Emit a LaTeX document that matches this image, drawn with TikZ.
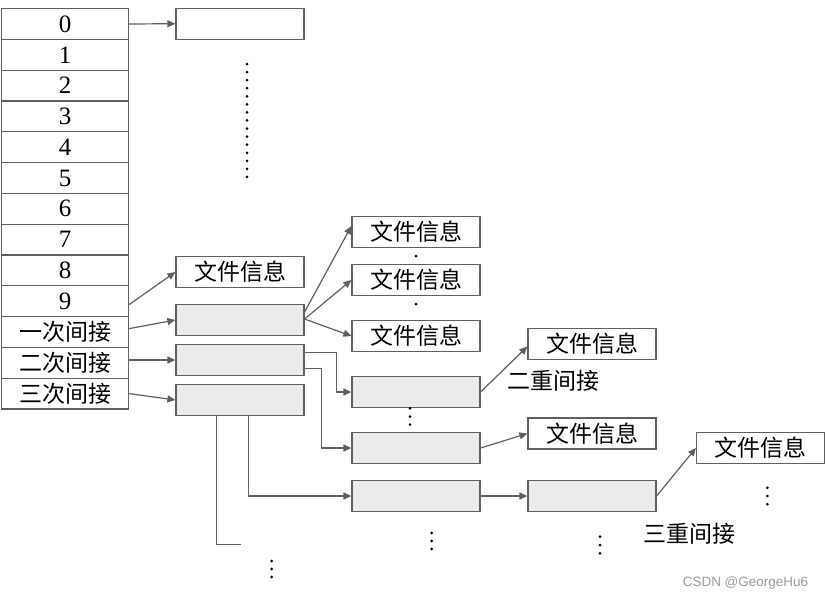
\documentclass[tikz,border=0pt]{standalone}
\usepackage{fontspec}
\newfontfamily\cjk{Noto Sans CJK SC}
\newfontfamily\wmfont{Liberation Sans}
\newfontfamily\digfont{Liberation Serif}
\usetikzlibrary{arrows.meta}
\definecolor{ln}{HTML}{5F5F5F}
\definecolor{gf}{HTML}{EBEBEB}
\definecolor{wmc}{HTML}{9A9A9A}
\begin{document}
\begin{tikzpicture}[x=1pt,y=-1pt,
 cell/.style={draw=ln,line width=1.2pt,minimum width=127pt,minimum height=30.8pt,inner sep=0,anchor=north west,font=\digfont\fontsize{25}{25}\selectfont},
 ccell/.style={cell,font=\cjk\fontsize{23}{23}\selectfont},
 box/.style={draw=ln,line width=1.2pt,minimum width=128pt,minimum height=31pt,inner sep=0,font=\cjk\fontsize{23}{23}\selectfont},
 gbox/.style={box,fill=gf},
 conn/.style={draw=ln,line width=1.2pt},
 arr/.style={conn,-{Triangle[length=8pt,width=7pt]}},
 dot/.style={circle,fill=black,inner sep=0,minimum size=3pt},
 lbl/.style={font=\cjk\fontsize{23}{23}\selectfont,inner sep=0}]
\useasboundingbox (0,0) rectangle (825,600);

% index table
\foreach \i in {0,...,9} \node[cell] (r\i) at (1,{8+\i*30.8}) {\i};
\node[ccell] (r10) at (1,{8+10*30.8}) {一次间接};
\node[ccell] (r11) at (1,{8+11*30.8}) {二次间接};
\node[ccell] (r12) at (1,{8+12*30.8}) {三次间接};

% first column of blocks
\node[box] (top0) at (240,23.7) {};
\node[box] (fi0) at (240,272) {文件信息};
\node[gbox] (A) at (240,320) {};
\node[gbox] (B) at (240,360) {};
\node[gbox] (C) at (240,400) {};

% second column
\node[box] (fi1) at (416,231.6) {文件信息};
\node[box] (fi2) at (416,280) {文件信息};
\node[box] (fi3) at (416,336) {文件信息};
\node[gbox] (D) at (416,392) {};
\node[gbox] (E) at (416,448) {};
\node[gbox] (F) at (416,496) {};

% third column
\node[box] (G) at (592,344) {文件信息};
\node[box] (H) at (592,433.5) {文件信息};
\node[gbox] (I) at (592,496) {};
\node[box] (J) at (760.5,448) {文件信息};

% labels
\node[lbl] (l2) at (553.5,381) {二重间接};
\node[lbl] (l3) at (689.5,533.3) {三重间接};

% connectors
\draw[arr] (r0.east) -- (top0.west);
\draw[arr] ([yshift=-3.4pt]r9.east) -- (fi0.west);
\draw[arr] ([yshift=3.4pt]r10.east) -- (A.west);
\draw[arr] (B.west -| r11.east) -- (B.west);
\draw[arr] (r12.east) -- (C.west);

\draw[arr] ([yshift=8pt]A.east) -- ([yshift=5.6pt]fi1.west);
\draw[arr] ([yshift=1pt]A.east) -- (fi2.west);
\draw[arr] ([yshift=1pt]A.east) -- (fi3.west);

\draw[arr] ([yshift=7.7pt]B.east) -- ++(32,0) |- (D.west);
\draw[arr] ([yshift=-8.3pt]B.east) -- ++(16.5,0) |- (E.west);
\draw[arr] ([xshift=8.3pt]C.south) |- (F.west);
\coordinate (c3end) at (240.7,544.3);
\draw[conn] ([xshift=-23.7pt]C.south) |- (c3end);

\draw[arr] (D.east) -- ([yshift=-2.5pt]G.west);
\draw[arr] (E.east) -- (H.west);
\draw[arr] (F.east) -- (I.west);
\draw[arr] (I.east) -- (J.west);

% dots
\foreach \k in {0,...,14} \node[dot] (v\k) at (247,{64+\k*8.07}) {};
\node[dot] (s1) at (416,256) {};
\node[dot] (s2) at (416,304) {};
\foreach \k in {0,1,2} {
  \node[dot] (de\k) at (410,{408.3+\k*8.2}) {};
  \node[dot] (b1\k) at (271.7,{561+\k*8}) {};
  \node[dot] (b2\k) at (431.7,{533+\k*8}) {};
  \node[dot] (b3\k) at (600,{536.7+\k*8.3}) {};
  \node[dot] (b4\k) at (767.3,{487.7+\k*8.3}) {};
}

% watermark
\node[font=\wmfont\fontsize{13.5}{13.5}\selectfont,text=wmc,inner sep=0] (wm) at (745.5,583) {CSDN @GeorgeHu6};
\end{tikzpicture}
\end{document}
